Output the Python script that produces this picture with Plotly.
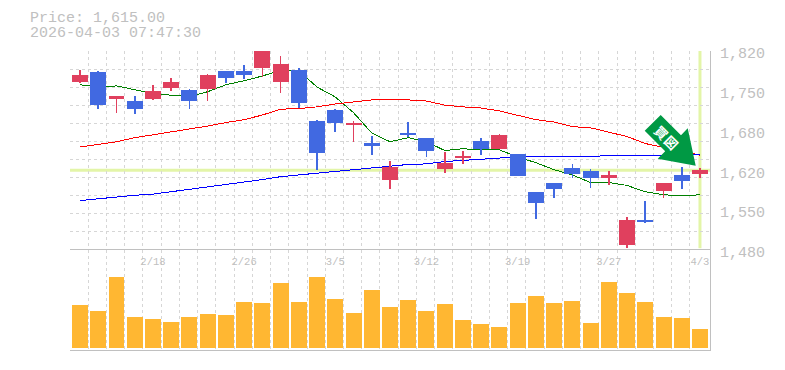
import plotly.graph_objects as go

# ---- data ----
opens  = [1767,1784,1738,1734,1738,1757,1753,1755,1786,1786,1791,1767,1787,1700,1719,1693,1662,1599,1679,1671,1618,1637,1666,1652,1643,1577,1594,1619,1613,1601,1487,1530,1580,1607,1609]
closes = [1779,1727,1743,1721,1751,1767,1734,1779,1774,1779,1820,1798,1731,1645,1697,1695,1657,1621,1676,1649,1628,1640,1652,1676,1606,1558,1583,1609,1602,1607,1529,1527,1594,1597,1615]
highs  = [1787,1786,1743,1743,1762,1774,1755,1781,1786,1796,1820,1811,1791,1702,1721,1700,1674,1631,1698,1671,1647,1649,1671,1678,1643,1577,1594,1625,1618,1614,1534,1563,1594,1621,1619]
lows   = [1765,1721,1714,1712,1736,1751,1721,1734,1765,1772,1775,1748,1722,1616,1681,1664,1642,1582,1673,1637,1611,1625,1642,1652,1606,1532,1568,1601,1585,1589,1481,1525,1568,1583,1602]
ma_short = [1762,1758,1760,1753,1747,1744,1742,1750,1762,1769,1777,1787,1786,1758,1741,1714,1679,1664,1671,1664,1649,1652,1650,1650,1638,1628,1616,1607,1594,1594,1589,1578,1573,1571,1573]
ma_mid   = [1655,1659,1664,1671,1676,1681,1685,1691,1697,1702,1710,1720,1721,1724,1729,1733,1736,1736,1736,1734,1727,1724,1722,1717,1709,1702,1698,1690,1688,1681,1673,1661,1654,1647,1641]
ma_long  = [1563,1566,1570,1572,1574,1578,1583,1587,1590,1595,1599,1604,1607,1610,1613,1616,1620,1623,1625,1626,1630,1632,1634,1637,1638,1638,1638,1638,1639,1640,1640,1640,1640,1640,1642]
volumes  = [43000,37000,71000,31000,29000,26000,31000,34000,33000,46000,45000,65000,46000,71000,49000,35000,58000,41000,48000,37000,44000,28000,24000,21000,45000,52000,45000,47000,25000,66000,55000,46000,31000,30000,19000]
date_labels = ["2/18","2/26","3/5","3/12","3/19","3/27","4/3"]
date_slots  = [4,9,14,19,24,29,34]
price_ticks = [1820,1751.6,1683.2,1614.8,1546.4,1478]
price_tick_labels = ["1,820","1,750","1,680","1,620","1,550","1,480"]
last_price = 1615
header_lines = ["Price: 1,615.00","2026-04-03 07:47:30"]
signal_text = ["買","図"]

# ---- style ----
RED,BLUE,ORANGE,GRID,AX,TXT,HL = "#E0405E","#4169E1","#FFB732","#D6D6D6","#C0C0C0","#C0C0C0","#E3F5A8"
MONO = "Liberation Mono"
W,H,L,R,T,B = 785,370,70,75,51,20
PW,PH = W-L-R,H-T-B
xs = list(range(len(opens)))
X_RANGE = [-0.55,34.55]
Y_RANGE = [1478,1820]
BODY_W = 0.877
WICK_W = 0.035
def px(x): return (x-L)/PW
def py(y): return (H-B-y)/PH

colors = [RED if c >= o else BLUE for o,c in zip(opens,closes)]
fig = go.Figure()
for vals,col in [(ma_short,"#008000"),(ma_mid,"#FF0000"),(ma_long,"#0000FF")]:
    fig.add_trace(go.Scatter(x=xs,y=vals,mode="lines",line=dict(color=col,width=1),xaxis="x",yaxis="y",hoverinfo="skip"))
# wicks, then bodies, on an overlaid copy of the price axis so they sit above the averages
fig.add_trace(go.Bar(x=xs,base=lows,y=[h-l for h,l in zip(highs,lows)],width=WICK_W,
    marker=dict(color=colors,line=dict(width=0)),xaxis="x",yaxis="y3",hoverinfo="skip"))
fig.add_trace(go.Bar(x=xs,base=[min(o,c) for o,c in zip(opens,closes)],y=[abs(c-o) for o,c in zip(opens,closes)],width=BODY_W,
    marker=dict(color=colors,line=dict(width=0)),xaxis="x",yaxis="y3",hoverinfo="skip"))
fig.add_trace(go.Bar(x=xs,y=volumes,width=BODY_W,marker=dict(color=ORANGE,line=dict(width=0)),xaxis="x2",yaxis="y2",hoverinfo="skip"))

slot_edges = [i-0.55 for i in xs]
grid_y = [Y_RANGE[0]+(Y_RANGE[1]-Y_RANGE[0])*k/11 for k in range(1,12)]
grid_kw = dict(showgrid=True,gridcolor=GRID,griddash="3px,3px",gridwidth=1,ticklen=0)
split = 100/PH

fig.update_layout(
    width=W,height=H,margin=dict(l=L,r=R,t=T,b=B,autoexpand=False),autosize=False,template="none",
    paper_bgcolor="white",plot_bgcolor="rgba(0,0,0,0)",showlegend=False,barmode="overlay",
    xaxis=dict(domain=[0,1],range=X_RANGE,anchor="y",tickmode="array",automargin=False,
        tickvals=slot_edges,showticklabels=False,ticks="",showgrid=True,gridcolor=GRID,griddash="3px,3px",gridwidth=1,
        showline=False,zeroline=False,fixedrange=True),
    yaxis=dict(domain=[split,1],range=Y_RANGE,anchor="x",side="right",tickmode="array",tickvals=price_ticks,automargin=False,
        ticktext=price_tick_labels,showgrid=False,ticks="",tickfont=dict(family=MONO,size=15,color=TXT),ticklabelstandoff=6,ticklabelshift=2,
        minor=dict(tickmode="array",tickvals=grid_y,**grid_kw),
        showline=True,linecolor=AX,linewidth=1,zeroline=False,fixedrange=True),
    yaxis3=dict(domain=[split,1],range=Y_RANGE,overlaying="y",anchor="x",side="right",visible=False,fixedrange=True),
    xaxis2=dict(domain=[0,1],range=X_RANGE,anchor="y2",side="top",ticklabelposition="inside",tickmode="array",tickvals=date_slots,ticktext=date_labels,automargin=False,
        showgrid=False,ticks="",tickfont=dict(family=MONO,size=10.5,color=TXT),ticklabelstandoff=7,minor=dict(tickmode="array",tickvals=slot_edges,**grid_kw),
        showline=True,linecolor=AX,linewidth=1,zeroline=False,fixedrange=True,mirror=True),
    yaxis2=dict(domain=[0,split],range=[-2000,98000],anchor="x2",side="right",showticklabels=False,ticks="",showgrid=False,automargin=False,
        showline=True,linecolor=AX,linewidth=1,zeroline=False,fixedrange=True),
    shapes=[
        dict(type="line",xref="paper",x0=0,x1=1,yref="y",y0=last_price,y1=last_price,line=dict(color=HL,width=3),layer="below"),
        dict(type="line",xref="x",x0=xs[-1],x1=xs[-1],yref="y",y0=Y_RANGE[0]+3,y1=Y_RANGE[1],line=dict(color=HL,width=3),layer="below"),
        dict(type="path",xref="paper",yref="paper",fillcolor="#009944",line=dict(width=0),layer="above",
             path="M{} {} L{} {} L{} {} L{} {} L{} {} L{} {} L{} {} Z".format(
                px(660.7),py(115),px(681),py(135.3),px(687.7),py(128.3),px(695.7),py(165.7),
                px(657.7),py(158.7),px(665.2),py(151.2),px(644.7),py(130.7))),
    ],
    annotations=[
        dict(text=header_lines[0],xref="paper",yref="paper",x=px(28),y=py(18),xanchor="left",yanchor="middle",showarrow=False,font=dict(family=MONO,size=15,color=TXT)),
        dict(text=header_lines[1],xref="paper",yref="paper",x=px(28),y=py(33),xanchor="left",yanchor="middle",showarrow=False,font=dict(family=MONO,size=15,color=TXT)),
        dict(text="<b>%s</b>"%signal_text[0],xref="paper",yref="paper",x=px(661.7),y=py(132.5),textangle=45,xanchor="center",yanchor="middle",showarrow=False,font=dict(family="Noto Sans CJK JP",size=13,color="#FFFFFF")),
        dict(text="<b>%s</b>"%signal_text[1],xref="paper",yref="paper",x=px(671.7),y=py(142.5),textangle=45,xanchor="center",yanchor="middle",showarrow=False,font=dict(family="Noto Sans CJK JP",size=13,color="#FFFFFF")),
    ],
)
page_js = ("document.body.style.margin='0';document.documentElement.style.overflow='hidden';"
           "var s=document.createElement('style');"
           "s.textContent='.barlayer path,.scatterlayer path.js-line{shape-rendering:crispEdges !important}';"
           "document.head.appendChild(s);")
fig.write_html("out.html",config=dict(displayModeBar=False),post_script=page_js)
